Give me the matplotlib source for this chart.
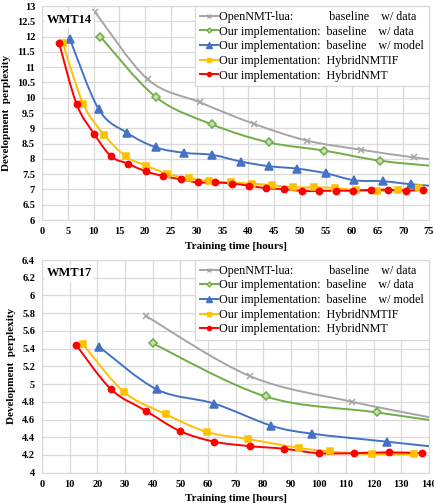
import numpy as np
import matplotlib
matplotlib.use("Agg")
import matplotlib.pyplot as plt
from matplotlib.path import Path
from matplotlib.patches import PathPatch
from matplotlib.lines import Line2D

plt.rcParams['font.family'] = ['Liberation Serif', 'DejaVu Serif']

# ---- data ----
labels = ["OpenNMT-lua:            baseline    w/ data",
          "Our implementation:  baseline    w/ data",
          "Our implementation:  baseline    w/ model",
          "Our implementation:  HybridNMTIF",
          "Our implementation:  HybridNMT"]

# WMT14 (x = training hours, y = dev perplexity)
w14_lua_x = [10.3, 20.5, 30.6, 41.0, 51.3, 61.8, 72.0, 82.3]
w14_lua_y = [12.8, 10.6, 9.85, 9.15, 8.6, 8.3, 8.05, 7.85]
w14_base_x = [11.3, 22.0, 32.9, 43.9, 54.7, 65.5, 76.3]
w14_base_y = [12.0, 10.03, 9.13, 8.54, 8.27, 7.94, 7.76]
w14_model_x = [5.4, 11.0, 16.4, 22.0, 27.5, 33.0, 38.6, 44.0, 49.5, 55.0, 60.5, 66.0, 71.5, 77.0]
w14_model_y = [11.92, 9.62, 8.86, 8.38, 8.2, 8.13, 7.91, 7.76, 7.68, 7.53, 7.3, 7.27, 7.17, 7.1]
w14_if_x = [4.0, 8.0, 12.1, 16.2, 20.2, 24.3, 28.4, 32.4, 36.6, 40.6, 44.6, 48.7, 52.8, 56.8,
            60.9, 64.9, 68.9, 73.0]
w14_if_y = [11.8, 9.79, 8.78, 8.08, 7.78, 7.51, 7.37, 7.28, 7.23, 7.19, 7.14, 7.07, 7.07, 7.05,
            6.97, 6.94, 6.98, 7.04]
w14_hyb_x = [3.3, 6.7, 10.1, 13.4, 16.7, 20.1, 23.5, 26.9, 30.2, 33.5, 36.9, 40.2, 43.5, 46.9,
             50.3, 53.7, 57.0, 60.3, 63.7, 67.1, 70.5, 73.8]
w14_hyb_y = [11.8, 9.79, 8.82, 8.08, 7.84, 7.59, 7.44, 7.33, 7.23, 7.23, 7.19, 7.12, 7.04, 7.01,
             6.95, 6.95, 6.96, 6.96, 6.99, 6.99, 6.96, 6.99]

# WMT17
w17_lua_x = [37.5, 75.2, 112.2, 149.6]
w17_lua_y = [5.77, 5.09, 4.80, 4.57]
w17_base_x = [40.0, 80.9, 121.1, 161.6]
w17_base_y = [5.46, 4.86, 4.68, 4.50]
w17_model_x = [20.7, 41.5, 62.3, 83.0, 97.8, 124.8, 145.6]
w17_model_y = [5.42, 4.94, 4.78, 4.53, 4.44, 4.35, 4.28]
w17_if_x = [14.8, 29.7, 44.8, 59.6, 74.6, 92.9, 104.3, 119.4, 134.5]
w17_if_y = [5.45, 4.91, 4.66, 4.46, 4.38, 4.28, 4.24, 4.21, 4.21]
w17_hyb_x = [12.4, 25.0, 37.5, 49.9, 62.3, 75.2, 87.6, 100.1, 112.7, 125.4, 137.5]
w17_hyb_y = [5.44, 4.94, 4.70, 4.47, 4.35, 4.30, 4.27, 4.22, 4.22, 4.23, 4.22]

colors = ['#a5a5a5', '#70ad47', '#4472c4', '#ffc000', '#ff0000']
markers = ['x', 'D', '^', 's', 'o']
msizes = [5, 4, 5.5, 4.5, 4.5]
mfaces = ['#a5a5a5', '#c5e0b4', '#4472c4', '#ffc000', '#ff0000']


# Excel style smoothed line (Catmull-Rom as bezier)
def smooth_path(x, y):
    pts = np.column_stack([x, y]).astype(float)
    n = len(pts)
    verts = [pts[0]]
    codes = [Path.MOVETO]
    for i in range(n - 1):
        p0 = pts[i - 1] if i > 0 else pts[i]
        p1 = pts[i]
        p2 = pts[i + 1]
        p3 = pts[i + 2] if i + 2 < n else pts[i + 1]
        verts += [p1 + (p2 - p0) / 6.0, p2 - (p3 - p1) / 6.0, p2]
        codes += [Path.CURVE4] * 3
    return Path(verts, codes)


def draw_panel(ax, series, xlim, xticks, ylim, yticks, name):
    ax.set_axisbelow(True)
    for k, (x, y) in enumerate(series):
        ax.add_patch(PathPatch(smooth_path(x, y), facecolor='none', edgecolor=colors[k], lw=1.4, zorder=3))
        ax.plot(x, y, ls='none', marker=markers[k], ms=msizes[k], color=colors[k],
                mfc=mfaces[k], mec=colors[k], mew=1.1, zorder=4)
    ax.set_xlim(*xlim)
    ax.set_ylim(*ylim)
    ax.set_xticks(xticks)
    ax.set_yticks(yticks)
    ax.set_yticklabels(['%g' % v for v in yticks])
    ax.grid(True, color='#d9d9d9', lw=0.9)
    ax.tick_params(length=0, labelsize=7.5, pad=5)
    for lab in ax.get_xticklabels() + ax.get_yticklabels():
        lab.set_fontweight('bold')
    for s in ax.spines.values():
        s.set_color('#d9d9d9')
    ax.set_xlabel('Training time [hours]', fontsize=8, fontweight='bold', labelpad=4)
    ax.set_ylabel('Development  perplexity', fontsize=8, fontweight='bold', labelpad=4)
    ax.text(0.012, 0.965, name, transform=ax.transAxes, fontsize=9, fontweight='bold',
            va='top', ha='left', zorder=5,
            bbox=dict(facecolor='white', edgecolor='none', pad=1.5))
    handles = [Line2D([], [], color=colors[k], marker=markers[k], ms=msizes[k] - 1.5,
                      mfc=mfaces[k], mec=colors[k], lw=1.4) for k in range(5)]
    leg = ax.legend(handles, labels, loc='upper right', bbox_to_anchor=(1.0, 1.0),
                    borderaxespad=0, fontsize=8.7, frameon=True, fancybox=False,
                    framealpha=1, edgecolor='#d9d9d9', handlelength=1.5,
                    handletextpad=0.1, labelspacing=0.22, borderpad=0.4)
    leg.set_zorder(6)
    leg.get_frame().set_linewidth(0.9)


fig = plt.figure(figsize=(4.35, 5.03), dpi=100)
ax1 = fig.add_axes([0.0966, 0.5626, 0.8897, 0.4254])
ax2 = fig.add_axes([0.0966, 0.0602, 0.8897, 0.4229])

draw_panel(ax1, [(w14_lua_x, w14_lua_y), (w14_base_x, w14_base_y), (w14_model_x, w14_model_y),
                 (w14_if_x, w14_if_y), (w14_hyb_x, w14_hyb_y)],
           (0, 75), np.arange(0, 76, 5), (6, 13), np.arange(6, 13.01, 0.5), 'WMT14')
draw_panel(ax2, [(w17_lua_x, w17_lua_y), (w17_base_x, w17_base_y), (w17_model_x, w17_model_y),
                 (w17_if_x, w17_if_y), (w17_hyb_x, w17_hyb_y)],
           (0, 140), np.arange(0, 141, 10), (4, 6.4), np.round(np.arange(4, 6.41, 0.2), 1), 'WMT17')

fig.savefig('out.png', dpi=100)
